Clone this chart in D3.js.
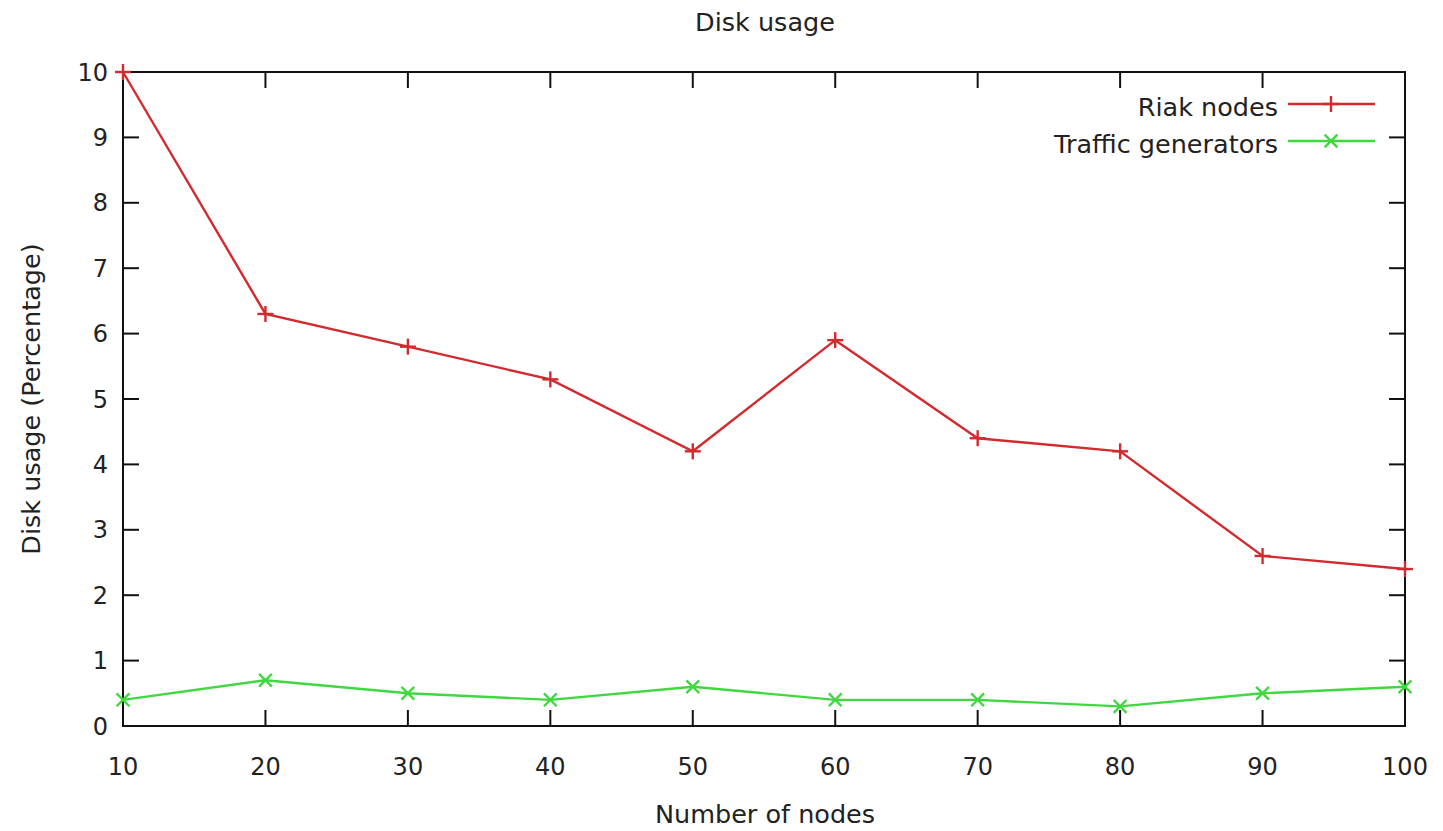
<!DOCTYPE html>
<html>
<head>
<meta charset="utf-8">
<script src="https://cdn.jsdelivr.net/npm/d3@7"></script>
<style>
  html, body { margin: 0; padding: 0; background: #fff; }
  svg text { font-family: "DejaVu Sans", Verdana, sans-serif; fill: #222; }
</style>
</head>
<body>
<script>
// Disk usage per node count
const nodes = [10, 20, 30, 40, 50, 60, 70, 80, 90, 100];
const riakNodes = [10, 6.3, 5.8, 5.3, 4.2, 5.9, 4.4, 4.2, 2.6, 2.4];
const trafficGenerators = [0.4, 0.7, 0.5, 0.4, 0.6, 0.4, 0.4, 0.3, 0.5, 0.6];
const xTicks = [10, 20, 30, 40, 50, 60, 70, 80, 90, 100];
const yTicks = [0, 1, 2, 3, 4, 5, 6, 7, 8, 9, 10];
const seriesNames = ["Riak nodes", "Traffic generators"];

const W = 1443, H = 831;
const margin = { left: 123, right: 38, top: 72, bottom: 105 };
const svg = d3.select("body").append("svg").attr("width", W).attr("height", H);

const x = d3.scaleLinear().domain([10, 100]).range([margin.left, W - margin.right]);
const y = d3.scaleLinear().domain([0, 10]).range([H - margin.bottom, margin.top]);

const fs = 25.5;
const tickFs = 24;
const tickLen = 16;
const x0 = x.range()[0], x1 = x.range()[1], y0 = y.range()[0], y1 = y.range()[1];

// Inward ticks on all four sides
const axes = svg.append("g").attr("stroke", "#111").attr("stroke-width", 2);
xTicks.forEach(t => {
  axes.append("line").attr("x1", x(t)).attr("x2", x(t)).attr("y1", y0).attr("y2", y0 - tickLen);
  axes.append("line").attr("x1", x(t)).attr("x2", x(t)).attr("y1", y1).attr("y2", y1 + tickLen);
});
yTicks.forEach(t => {
  axes.append("line").attr("x1", x0).attr("x2", x0 + tickLen).attr("y1", y(t)).attr("y2", y(t));
  axes.append("line").attr("x1", x1).attr("x2", x1 - tickLen).attr("y1", y(t)).attr("y2", y(t));
});
axes.append("rect").attr("x", x0).attr("y", y1).attr("width", x1 - x0).attr("height", y0 - y1)
  .attr("fill", "none");

// Tick labels
svg.append("g").selectAll("text").data(xTicks).join("text")
  .attr("x", d => x(d)).attr("y", y0 + 49).attr("text-anchor", "middle")
  .attr("font-size", tickFs).text(d => d);
svg.append("g").selectAll("text").data(yTicks).join("text")
  .attr("x", x0 - 15).attr("y", d => y(d)).attr("dy", "0.36em").attr("text-anchor", "end")
  .attr("font-size", tickFs).text(d => d);

// Titles
svg.append("text").attr("x", 765).attr("y", 31).attr("text-anchor", "middle")
  .attr("font-size", fs).text("Disk usage");
svg.append("text").attr("x", 765).attr("y", 823).attr("text-anchor", "middle")
  .attr("font-size", fs).text("Number of nodes");
svg.append("text").attr("transform", "translate(40," + ((y0 + y1) / 2) + ") rotate(-90)")
  .attr("text-anchor", "middle").attr("font-size", fs).text("Disk usage (Percentage)");

const colors = ["#d22a2e", "#40d840"];
const data = [riakNodes, trafficGenerators];

const line = d3.line().x((d, i) => x(nodes[i])).y(d => y(d));
const ms = 8;
function marker(g, cx, cy, k) {
  if (k === 0) {
    g.append("line").attr("x1", cx - ms).attr("x2", cx + ms).attr("y1", cy).attr("y2", cy);
    g.append("line").attr("x1", cx).attr("x2", cx).attr("y1", cy - ms).attr("y2", cy + ms);
  } else {
    const m = ms * 0.8;
    g.append("line").attr("x1", cx - m).attr("x2", cx + m).attr("y1", cy - m).attr("y2", cy + m);
    g.append("line").attr("x1", cx - m).attr("x2", cx + m).attr("y1", cy + m).attr("y2", cy - m);
  }
}

data.forEach((vals, k) => {
  const g = svg.append("g").attr("stroke", colors[k]).attr("stroke-width", 2.4).attr("fill", "none");
  g.append("path").attr("d", line(vals));
  vals.forEach((v, i) => marker(g, x(nodes[i]), y(v), k));
});

// Legend
const legY = [104, 141];
seriesNames.forEach((name, k) => {
  svg.append("text").attr("x", 1278).attr("y", legY[k] + 12)
    .attr("text-anchor", "end").attr("font-size", fs).text(name);
  const g = svg.append("g").attr("stroke", colors[k]).attr("stroke-width", 2.4);
  g.append("line").attr("x1", 1288).attr("x2", 1375).attr("y1", legY[k]).attr("y2", legY[k]);
  marker(g, 1331, legY[k], k);
});
</script>
</body>
</html>
